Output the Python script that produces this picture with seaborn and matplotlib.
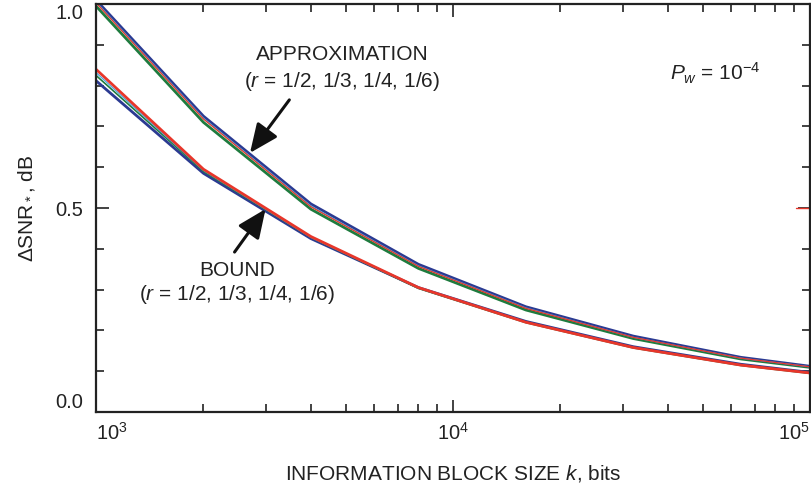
import numpy as np
import pandas as pd
import matplotlib
matplotlib.use("Agg")
import matplotlib.pyplot as plt
import seaborn as sns
from matplotlib.ticker import LogLocator, MultipleLocator, NullFormatter

# block sizes k (bits) at which the curves were evaluated
block_size = [1000, 2000, 4000, 8000, 16000, 32000, 64000, 128000]

# approximation curves, one per code rate
approx_r2 = [1.010, 0.725, 0.510, 0.362, 0.258, 0.186, 0.134, 0.100]
approx_r3 = [1.005, 0.720, 0.505, 0.358, 0.255, 0.183, 0.132, 0.099]
approx_r4 = [1.003, 0.718, 0.503, 0.357, 0.254, 0.183, 0.132, 0.099]
approx_r6 = [0.995, 0.710, 0.497, 0.352, 0.250, 0.180, 0.130, 0.098]

# bound curves, one per code rate
bound_r2 = [0.812, 0.585, 0.425, 0.305, 0.222, 0.160, 0.117, 0.086]
bound_r3 = [0.832, 0.592, 0.428, 0.304, 0.220, 0.158, 0.115, 0.085]
bound_r4 = [0.825, 0.590, 0.428, 0.303, 0.219, 0.157, 0.114, 0.084]
bound_r6 = [0.840, 0.595, 0.430, 0.305, 0.220, 0.158, 0.115, 0.085]

# stray red stroke at the right edge of the original figure
stray_x = [91400, 105000]
stray_y = [0.5, 0.5]

BLUE = "#2b3a92"
GREEN = "#1e7b3e"
RED = "#e8362a"
CYAN = "#4aa6dc"
INK = "#222222"

sns.set_theme(style="ticks")
plt.rcParams["font.family"] = ["Liberation Sans", "DejaVu Sans"]
plt.rcParams["mathtext.fontset"] = "custom"
plt.rcParams["mathtext.rm"] = "Liberation Sans"
plt.rcParams["mathtext.it"] = "Liberation Sans:italic"
plt.rcParams["mathtext.default"] = "regular"

fig = plt.figure(figsize=(8.12, 4.84), dpi=100)
ax = fig.add_axes([96 / 812, 72 / 484, 714 / 812, 408 / 484])

# (values, colour, linewidth) in drawing order
series = [
    (approx_r6, GREEN, 2.0),
    (approx_r2, BLUE, 2.0),
    (approx_r3, CYAN, 0.9),
    (approx_r4, RED, 0.9),
    (bound_r2, BLUE, 2.0),
    (bound_r4, GREEN, 1.2),
    (bound_r3, CYAN, 0.9),
    (bound_r6, RED, 2.0),
]
for vals, col, lw in series:
    df = pd.DataFrame({"k": block_size, "snr": vals})
    sns.lineplot(data=df, x="k", y="snr", color=col, lw=lw, ax=ax,
                 sort=False, estimator=None, clip_on=True)
sns.lineplot(x=stray_x, y=stray_y, color=RED, lw=1.0, ax=ax, estimator=None)

ax.set_xscale("log")
ax.set_xlim(1000, 1e5)
ax.set_ylim(0, 1.0)

ax.set_yticks([0.0, 0.5, 1.0])
ax.set_yticklabels(["0.0", "0.5", "1.0"])
ax.yaxis.set_minor_locator(MultipleLocator(0.1))
ax.set_xticks([1e3, 1e4, 1e5])
ax.set_xticklabels(["$10^3$", "$10^4$", "$10^5$"])
ax.xaxis.set_minor_locator(LogLocator(base=10, subs=np.arange(2, 10)))
ax.xaxis.set_minor_formatter(NullFormatter())

ax.tick_params(which="both", direction="in", top=True, right=True,
               color=INK, width=1.2, labelcolor=INK, labelsize=14.5)
ax.tick_params(axis="y", which="major", length=9, pad=9)
ax.tick_params(axis="x", which="major", length=9, pad=7)
ax.tick_params(which="minor", length=6)
for s in ax.spines.values():
    s.set_color(INK)
    s.set_linewidth(1.6)

xl = ax.get_xticklabels()
xl[0].set_horizontalalignment("left")
xl[-1].set_horizontalalignment("right")
yl = ax.get_yticklabels()
yl[0].set_verticalalignment("bottom")
yl[-1].set_verticalalignment("top")

ax.set_xlabel("INFORMATION BLOCK SIZE $\\it{k}$, bits", fontsize=15, color=INK)
ax.set_ylabel("ΔSNR$_*$, dB", fontsize=15, color=INK)
ax.xaxis.set_label_coords(0.5, -0.125)
ax.yaxis.set_label_coords(-0.082, 0.5)

txt = dict(fontsize=15, color=INK, ha="center", va="center")
ax.text(4900, 0.875, "APPROXIMATION", **txt)
ax.text(4900, 0.809, "($\\it{r}$ = 1/2, 1/3, 1/4, 1/6)", **txt)
ax.text(2480, 0.346, "BOUND", **txt)
ax.text(2480, 0.287, "($\\it{r}$ = 1/2, 1/3, 1/4, 1/6)", **txt)
ax.text(54300, 0.83, "$\\it{P_w}$ = 10$^{-4}$", **txt)

arrow = dict(arrowstyle="-|>,head_length=0.8,head_width=0.35",
             mutation_scale=22, lw=2.2, color="#111111", shrinkA=0, shrinkB=0)
ax.annotate("", xy=(2700, 0.635), xytext=(3480, 0.765), arrowprops=arrow)
ax.annotate("", xy=(2985, 0.4975), xytext=(2444, 0.392), arrowprops=arrow)

fig.savefig("out.png", dpi=100)
